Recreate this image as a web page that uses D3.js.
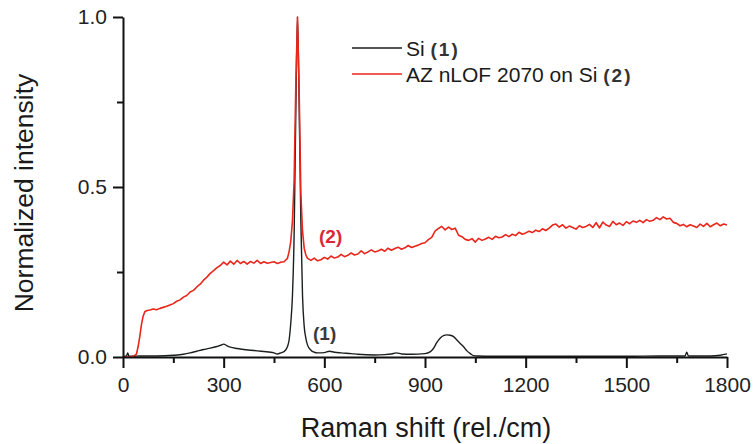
<!DOCTYPE html>
<html>
<head>
<meta charset="utf-8">
<script src="https://cdn.jsdelivr.net/npm/d3@7"></script>
<style>
  html, body { margin: 0; padding: 0; background: #fff; }
  svg { display: block; font-family: "Liberation Sans", Arial, sans-serif; }
</style>
</head>
<body>
<svg id="chart" width="754" height="444"></svg>
<script>
// Raman shift (rel./cm) sample positions and normalized intensities
const siShift = [0, 10, 14, 18, 30, 50, 100, 150, 180, 200, 220, 240, 260, 280, 290, 300, 310, 320, 340, 360,
  380, 400, 420, 440, 450, 460, 470, 480, 490, 495, 500, 505, 510, 515, 520, 525, 530, 535, 540, 545,
  550, 560, 570, 580, 600, 615, 630, 650, 680, 700, 750, 780, 800, 815, 830, 860, 900, 915, 925, 935,
  945, 955, 965, 975, 985, 995, 1005, 1015, 1025, 1035, 1045, 1060, 1100, 1200, 1300, 1400, 1500, 1600, 1675, 1680,
  1685, 1750, 1780, 1800];
const siIntensity = [0.002, 0.002, 0.012, 0.002, 0.002, 0.003, 0.003, 0.005, 0.008, 0.012, 0.017, 0.022, 0.026, 0.031, 0.034, 0.038, 0.033, 0.029, 0.025, 0.022,
  0.020, 0.018, 0.016, 0.014, 0.012, 0.009, 0.012, 0.016, 0.030, 0.050, 0.100, 0.180, 0.360, 0.720, 1.000, 0.740, 0.400, 0.180, 0.090, 0.055,
  0.035, 0.020, 0.014, 0.012, 0.013, 0.017, 0.014, 0.012, 0.010, 0.008, 0.006, 0.007, 0.009, 0.012, 0.009, 0.008, 0.010, 0.015, 0.025, 0.042,
  0.055, 0.063, 0.065, 0.064, 0.060, 0.050, 0.040, 0.030, 0.018, 0.010, 0.004, 0.003, 0.002, 0.002, 0.002, 0.002, 0.002, 0.003, 0.003, 0.014,
  0.003, 0.003, 0.005, 0.009];

const azShift = [0, 10, 20, 30, 40, 45, 50, 55, 60, 65, 70, 80, 90, 100, 110, 120, 130, 140, 150, 160,
  170, 180, 190, 200, 210, 220, 230, 240, 250, 260, 270, 280, 290, 300, 310, 320, 330, 340, 350, 360,
  370, 380, 390, 400, 410, 420, 430, 440, 450, 460, 470, 480, 490, 495, 500, 505, 510, 515, 520, 525,
  530, 535, 540, 545, 550, 560, 570, 580, 590, 600, 610, 620, 630, 640, 650, 660, 670, 680, 690, 700,
  710, 720, 730, 740, 750, 760, 770, 780, 790, 800, 810, 820, 830, 840, 850, 860, 870, 880, 890, 900,
  910, 920, 930, 940, 950, 960, 970, 980, 990, 1000, 1010, 1020, 1030, 1040, 1050, 1060, 1070, 1080, 1090, 1100,
  1110, 1120, 1130, 1140, 1150, 1160, 1170, 1180, 1190, 1200, 1210, 1220, 1230, 1240, 1250, 1260, 1270, 1280, 1290, 1300,
  1310, 1320, 1330, 1340, 1350, 1360, 1370, 1380, 1390, 1400, 1410, 1420, 1430, 1440, 1450, 1460, 1470, 1480, 1490, 1500,
  1510, 1520, 1530, 1540, 1550, 1560, 1570, 1580, 1590, 1600, 1610, 1620, 1630, 1640, 1650, 1660, 1670, 1680, 1690, 1700,
  1710, 1720, 1730, 1740, 1750, 1760, 1770, 1780, 1790, 1800];
const azIntensity = [0.000, 0.000, 0.000, 0.002, 0.008, 0.030, 0.060, 0.095, 0.120, 0.133, 0.136, 0.138, 0.141, 0.139, 0.143, 0.146, 0.149, 0.153, 0.157, 0.164,
  0.168, 0.176, 0.181, 0.191, 0.196, 0.206, 0.214, 0.226, 0.235, 0.246, 0.254, 0.263, 0.269, 0.279, 0.271, 0.282, 0.273, 0.284, 0.275, 0.281,
  0.273, 0.281, 0.276, 0.284, 0.275, 0.280, 0.276, 0.278, 0.280, 0.275, 0.279, 0.280, 0.290, 0.310, 0.340, 0.400, 0.520, 0.800, 1.000, 0.780,
  0.480, 0.370, 0.320, 0.300, 0.290, 0.284, 0.291, 0.283, 0.286, 0.293, 0.288, 0.297, 0.291, 0.294, 0.302, 0.295, 0.299, 0.306, 0.300, 0.303,
  0.312, 0.304, 0.309, 0.315, 0.309, 0.312, 0.317, 0.311, 0.320, 0.314, 0.319, 0.323, 0.317, 0.321, 0.328, 0.322, 0.326, 0.329, 0.334, 0.336,
  0.345, 0.352, 0.370, 0.378, 0.384, 0.374, 0.382, 0.375, 0.379, 0.358, 0.354, 0.346, 0.343, 0.348, 0.338, 0.349, 0.343, 0.347, 0.352, 0.346,
  0.355, 0.351, 0.353, 0.360, 0.354, 0.361, 0.357, 0.367, 0.361, 0.365, 0.370, 0.366, 0.373, 0.369, 0.377, 0.372, 0.379, 0.388, 0.391, 0.382,
  0.389, 0.379, 0.385, 0.381, 0.376, 0.386, 0.381, 0.384, 0.390, 0.381, 0.395, 0.380, 0.397, 0.388, 0.384, 0.399, 0.389, 0.394, 0.387, 0.398,
  0.392, 0.400, 0.396, 0.402, 0.395, 0.404, 0.399, 0.402, 0.410, 0.404, 0.412, 0.406, 0.408, 0.396, 0.393, 0.386, 0.390, 0.383, 0.389, 0.385,
  0.381, 0.391, 0.384, 0.393, 0.383, 0.389, 0.394, 0.386, 0.391, 0.388];

const xMajorTicks = [0, 300, 600, 900, 1200, 1500, 1800];
const xMinorTicks = [150, 450, 750, 1050, 1350, 1650];
const yMajorTicks = [0, 0.5, 1.0];
const yMinorTicks = [0.25, 0.75];

const seriesNames = ["Si", "AZ nLOF 2070 on Si"];
const seriesTags = ["(1)", "(2)"];
const seriesColors = ["#1c1f1f", "#e8261c"];

const svg = d3.select("#chart");
const x = d3.scaleLinear().domain([0, 1800]).range([123, 727]);
const y = d3.scaleLinear().domain([0, 1]).range([357, 17]);

// spectra
const siData = siShift.map((s, i) => [s, siIntensity[i]]);
const azData = azShift.map((s, i) => [s, azIntensity[i]]);

const smoothLine = d3.line().x(d => x(d[0])).y(d => y(d[1])).curve(d3.curveMonotoneX);
const rawLine = d3.line().x(d => x(d[0])).y(d => y(d[1]));

svg.append("path").datum(siData)
  .attr("d", smoothLine)
  .attr("fill", "none").attr("stroke", seriesColors[0]).attr("stroke-width", 1.4)
  .attr("stroke-linejoin", "round");

svg.append("path").datum(azData)
  .attr("d", rawLine)
  .attr("fill", "none").attr("stroke", seriesColors[1]).attr("stroke-width", 1.6)
  .attr("stroke-linejoin", "round");

// axes
const fontTick = "21px";
svg.append("g").attr("transform", `translate(0,${y(0)})`)
  .call(d3.axisBottom(x).tickValues(xMajorTicks).tickSize(11).tickSizeOuter(0).tickPadding(9)
    .tickFormat(d3.format("d")));
svg.append("g").attr("transform", `translate(0,${y(0)})`)
  .call(d3.axisBottom(x).tickValues(xMinorTicks).tickSize(6).tickSizeOuter(0).tickFormat(""))
  .call(g => g.select(".domain").remove());

svg.append("g").attr("transform", `translate(${x(0)},0)`)
  .call(d3.axisLeft(y).tickValues(yMajorTicks).tickSize(10).tickSizeOuter(0).tickPadding(6)
    .tickFormat(d3.format(".1f")));
svg.append("g").attr("transform", `translate(${x(0)},0)`)
  .call(d3.axisLeft(y).tickValues(yMinorTicks).tickSize(6).tickSizeOuter(0).tickFormat(""))
  .call(g => g.select(".domain").remove());

svg.selectAll(".domain, .tick line").attr("stroke", "#111").attr("stroke-width", 2);
svg.selectAll(".tick text")
  .attr("font-size", fontTick)
  .attr("font-family", "'Liberation Sans', Arial, sans-serif")
  .attr("fill", "#222");

// axis titles
svg.append("text")
  .attr("x", 426).attr("y", 437)
  .attr("text-anchor", "middle")
  .attr("font-size", "27px").attr("fill", "#1a1a1a")
  .text("Raman shift (rel./cm)");

svg.append("text")
  .attr("transform", "translate(33,193) rotate(-90)")
  .attr("text-anchor", "middle")
  .attr("font-size", "26.5px").attr("fill", "#1a1a1a")
  .text("Normalized intensity");

// legend
const legendY = [48, 74];
seriesNames.forEach((name, i) => {
  svg.append("line")
    .attr("x1", 352).attr("x2", 402)
    .attr("y1", legendY[i]).attr("y2", legendY[i])
    .attr("stroke", seriesColors[i]).attr("stroke-width", 1.5);
  const t = svg.append("text")
    .attr("x", 406).attr("y", legendY[i] + 8)
    .attr("font-size", "21px").attr("fill", "#1a1a1a");
  t.append("tspan").text(name + " ");
  t.append("tspan")
    .attr("font-size", "19px").attr("font-weight", "bold")
    .attr("fill", "#333").attr("letter-spacing", "2px")
    .text(seriesTags[i]);
});

// curve tags
svg.append("text")
  .attr("x", 319).attr("y", 243)
  .attr("font-size", "19px").attr("font-weight", "bold")
  .attr("fill", "#d8283a")
  .text(seriesTags[1]);
svg.append("text")
  .attr("x", 313).attr("y", 340)
  .attr("font-size", "19px").attr("font-weight", "bold")
  .attr("fill", "#3a3a3a")
  .text(seriesTags[0]);
</script>
</body>
</html>
